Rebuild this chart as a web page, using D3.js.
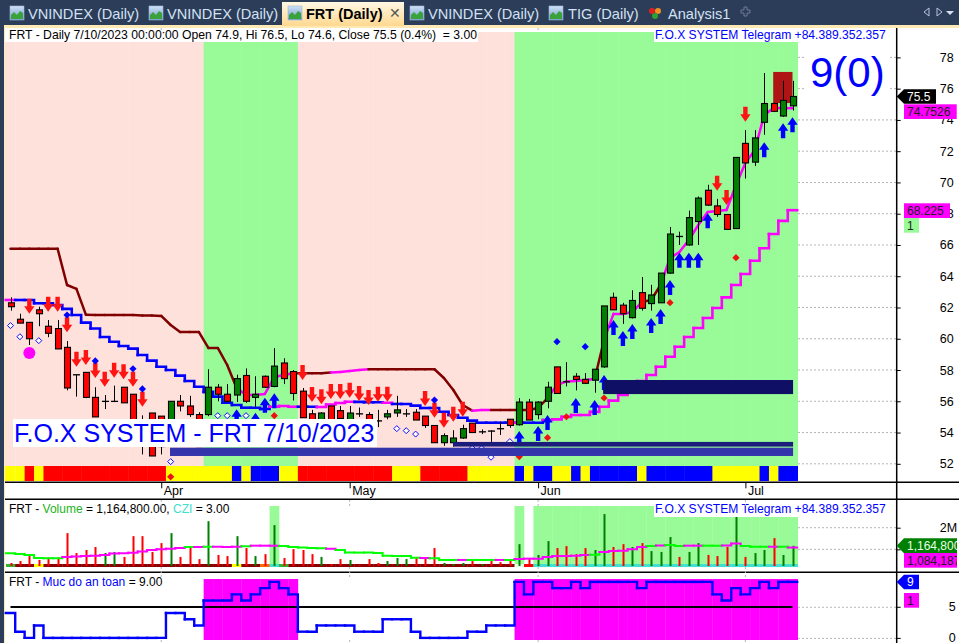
<!DOCTYPE html>
<html><head><meta charset="utf-8">
<script src="https://cdn.jsdelivr.net/npm/d3@7/dist/d3.min.js"></script>
<style>
html,body{margin:0;padding:0;background:#fff;overflow:hidden}
svg{display:block;font-family:"Liberation Sans",Arial,sans-serif}
text{white-space:pre}
</style></head><body>
<svg id="c" width="959" height="643"></svg>
<script>
// ---------- data ----------
const tabs = ["VNINDEX (Daily)","VNINDEX (Daily)","FRT (Daily)","VNINDEX (Daily)","TIG (Daily)","Analysis1"];
const priceTicks = [52,54,56,58,60,62,64,66,68,70,72,74,76,78];
const monthTicks = [[16,"Apr"],[36,"May"],[56,"Jun"],[78,"Jul"]];
// open, high, low, close per session
const ohlc = [
[62.3,62.65,61.8,62.05],[61.25,61.6,61,61],[61.05,61.05,59.6,60],[61.85,62.05,60.8,61.6],[60.8,61.2,60.1,60.35],[60.65,61.2,59.35,59.35],
[59.45,59.85,56.7,56.85],[57.7,57.7,56.3,57.7],[57.85,57.85,56.2,56.25],[56.25,56.9,55,55],[56,56.4,55.5,56],[56,57,56,56],
[56.9,56.9,55.9,55.9],[56.45,56.45,54.8,54.8],[54,55.1,52.6,54],[55.25,55.25,52.5,52.5],[55.05,55.05,52.6,53.1],[54.5,56,54.2,56],
[56,56.4,55.35,55.7],[55.7,56.35,55,55.15],[55.15,55.3,53.1,53.1],[55.15,58.05,55.05,56.9],[56.9,57.1,56,56.45],[56.45,57.1,55.95,56],
[56.4,57.7,55.95,57.45],[57.65,58.1,55.9,56],[56.25,57.6,55.65,56.45],[57.6,57.65,56.85,56.9],[56.95,59.4,56.9,58.25],[58.45,58.75,57.1,57.45],
[57.9,58,56.05,56.5],[56.65,56.85,54.95,54.95],[55.2,55.45,54.2,54.2],[54.5,55.3,54.3,55.25],[55.7,55.7,54.5,54.5],[55.4,55.7,54.85,54.9],
[54.8,55.7,54.6,55.25],[55.2,55.6,55,55.2],[55.15,55.3,54.7,54.8],[54.75,55.45,54.35,54.75],[55,55.45,54.85,55.2],[55.25,56.35,55,55.45],
[55.2,55.5,55,55.2],[55.3,55.5,54.8,54.8],[55.05,55.05,54.3,54.45],[54.45,54.45,53.35,53.35],[53.35,53.95,53.15,53.8],[53.35,54.15,53.1,53.65],
[53.65,54.5,53.6,54.25],[54.6,54.6,54,54],[54.05,54.2,53.9,54.05],[54.1,54.15,53.4,54.1],[54.25,54.7,53.85,54.25],[54.85,54.85,54.3,54.45],
[54.5,56.2,54.45,55.95],[55.95,56.15,54.8,54.8],[55.15,56,54.85,55.95],[56,57.25,55.55,56.9],[58.2,58.2,56.5,56.5],[57.25,58.5,56.95,57.25],
[57.6,57.8,56.7,57.4],[57.4,57.8,57.1,57.15],[57.35,58.05,56.55,58.05],[58.2,62.1,58.15,62.1],[62.65,62.95,61.85,61.85],[62.15,62.3,60.95,61.6],
[61.35,63.1,61.3,62.45],[62.95,63.95,61.8,61.95],[62.25,63.45,61.8,62.8],[62.3,64.2,62.3,64.2],[64.2,67.15,64.15,66.7],[66.55,66.85,66,66.55],
[66,68.2,65.95,67.75],[67.5,69.1,66,69],[69.5,69.85,68.5,68.55],[68.5,68.95,67.8,67.95],[67.95,67.95,67,67],[67.05,71.6,67.05,71.6],
[72.5,73.35,70.25,71.25],[71.3,73.35,71.05,72.85],[73.85,77,73.05,75.05],[75.05,75.1,74.5,74.55],[74.25,76.5,74.2,75.25],[74.9,76.5,74.6,75.5]];
// upper adaptive line and lower stepped line
const lineA = [65.76,65.76,65.76,65.76,65.76,65.76,63.44,63.19,61.54,61.52,61.52,61.52,61.52,61.52,61.49,61.49,61.46,60.88,60.43,60.43,60.43,59.41,59.41,58.32,56.85,56.4,56.4,56.47,57.55,57.68,57.79,57.79,57.79,57.79,57.84,57.87,57.94,58,58.05,58.05,58.05,58.05,58.05,58.05,58.05,58.05,57.49,56.72,55.76,55.4,55.44,55.44,55.44,55.44,55.44,55.44,55.57,56.2,57.04,57.27,57.3,57.36,57.43,59.92,61.59,61.59,61.71,62.35,62.48,63.44,65.17,65.55,66.32,67.28,68.11,68.18,68.24,69.84,71.25,72.08,74.32,74.76,74.76,74.7526];
const lineAMagenta = [[24,29],[34,37],[49,50],[57,61],[63,66],[69,83]];
const lineB = [62.48,62.48,62.48,62.27,62.27,62.16,61.91,61.52,61.03,60.66,60.11,59.81,59.54,59.37,58.96,58.6,58.21,58,57.64,57.3,56.93,56.6,56.3,55.91,55.76,55.59,55.59,55.51,55.65,55.7,55.65,55.65,55.65,55.63,55.79,55.89,55.97,55.96,55.94,55.94,55.91,55.83,55.83,55.72,55.57,55.57,55.33,55.12,54.95,54.76,54.63,54.63,54.63,54.63,54.63,54.63,54.63,54.8,54.84,55,55.12,55.12,55.32,55.65,56.04,56.4,56.85,57.3,57.68,58.21,58.85,59.49,60.11,60.69,61.33,61.97,62.65,63.44,64.14,64.99,65.79,66.7,67.54,68.225];
const lineBMagenta = [[0,0],[28,30],[33,36],[40,40],[54,54],[57,83]];
// signals: [session, price]
const sellArrows = [[2,61.6],[4,61.73],[5,61.73],[6,60.41],[7,58.21],[8,58.32],[9,57.49],[10,56.93],[11,57.51],[12,57.41],[13,56.93],[14,55.65],[31,57.36],[32,55.96],[33,55.81],[34,56.15],[35,56.15],[36,56.23],[37,56.02],[38,55.76],[39,55.97],[40,55.97],[44,55.7],[45,54.95],[46,54.31],[47,54.69],[48,55.01],[75,69.47],[76,68.56],[78,73.89]];
const buyArrows = [[24,55.49],[26,55.26],[27,56.23],[28,56.51],[54,54.1],[56,54.42],[57,55.12],[60,56.21],[62,56.08],[63,57.68],[64,61.2],[65,60.5],[66,60.95],[68,61.33],[69,61.9],[70,63.76],[71,65.51],[72,65.51],[73,65.51],[74,68.03],[80,72.57],[82,73.79],[83,74.17]];
const blueDiamonds = [[6,61.52],[9,58.58],[13,58.08],[14,56.79],[45,56.08],[58,59.81],[61,59.49]];
const redDiamonds = [[17,51.17],[28,55.08],[54,52.46],[57,53.67],[59,55.01],[63,56.21],[70,62.31],[77,65.19]];
const openDiamonds = [[0,60.84],[1,60.13],[3,59.88],[17,52.14],[22,55.08],[23,55.08],[25,55.08],[41,54.25],[42,54.12],[43,53.9],[49,53],[50,53],[51,52.42],[53,53.42]];
const bigDot = [[2,59.09]];
// horizontal zones: [from session, to session, upper price, lower price, colour]
const zones = [[62.9,83.06,57.36,56.46,"#0f0f66"],[46.97,83.06,53.4,53.1,"#1c1c7c"],[16.93,83.06,53.03,52.5,"#3535ab"]];
const hotZone = [80.95,83,77.07,75.08];
// colour ribbon under the price: 0 yellow 1 red 2 blue
const ribbon = [0,0,1,0,1,1,1,1,1,1,1,1,1,1,1,1,1,0,0,0,0,0,0,0,2,0,2,2,2,0,0,1,1,1,1,1,1,1,1,1,1,0,0,0,1,1,1,1,1,0,0,0,0,0,2,0,2,2,0,0,2,0,2,2,2,2,2,0,2,2,2,2,2,2,2,0,0,0,0,0,2,0,2,2];
// volume in millions, its average, and which bars were up
const volumes = [.37,.46,.77,.51,.63,.63,1.75,.83,.97,1.11,.83,.88,.65,1.61,1.61,.88,1.29,1.75,.65,1.15,.55,2.3,.74,.69,1.61,1.06,.69,.78,2.12,.6,1.01,.97,.78,.65,.32,.55,.51,.28,.55,.37,.46,.6,.55,.65,.6,1.06,.37,.32,.37,.46,.32,.46,.41,.51,1.24,.6,.74,1.38,1.06,1.15,.78,1.06,.97,2.63,1.11,1.24,1.11,1.29,.92,.88,1.57,.65,.88,1.29,.74,.69,1.11,2.53,.65,.83,.97,1.52,.74,1.1648];
const volumeUp = [10,11,17,21,24,26,28,33,36,40,41,42,46,47,48,50,54,56,57,62,63,66,68,69,70,72,73,77,79,80,82,83];
const volumeAvg = [.82,.78,.74,.6,.59,.59,.65,.67,.69,.71,.74,.81,.82,.84,.9,.97,1.01,1.03,1.06,1.11,1.11,1.12,1.12,1.11,1.12,1.14,1.17,1.17,1.17,1.15,1.11,1.08,1.06,1.05,1.03,.97,.86,.85,.85,.83,.71,.69,.69,.61,.6,.59,.51,.51,.51,.51,.51,.51,.51,.51,.55,.57,.57,.65,.69,.69,.71,.74,.75,.88,.92,.94,1.01,1.11,1.15,1.18,1.2,1.15,1.17,1.17,1.17,1.17,1.18,1.27,1.15,1.12,1.12,1.12,1.12,1.084187];
const volumeAvgMagenta = [[6,18],[20,20],[22,24],[26,28],[34,34],[44,44],[48,48],[52,52],[54,61],[63,67],[69,69],[72,73],[76,77],[81,81],[83,83]];
// CZI state: 0 dark red, 1 red, 2 orange, 3 turquoise, 4 pale, 5 green, 6 yellow
const czi = [5,0,0,6,0,0,0,0,0,0,0,0,0,0,0,0,0,0,0,0,0,0,0,0,6,0,0,2,3,5,0,0,0,0,0,0,0,0,0,0,0,0,0,0,0,0,0,0,0,0,0,0,0,0,4,1,3,3,3,3,3,3,3,3,3,3,3,3,3,3,3,3,3,3,3,3,3,3,3,3,3,3,3,3];
// "Muc do an toan" safety level
const safety = [4,1,0,2,0,0,0,0,0,0,0,0,0,0,0,0,0,4,4,3,2,6,6,6,7,6,7,8,9,8,7,1,1,2,2,2,2,1,1,1,3,3,3,1,0,0,0,0,0,1,1,2,2,2,9,7,9,9,8,8,9,8,9,9,9,9,9,8,9,9,9,9,9,9,9,7,6,8,7,8,9,8,9,9];

// ---------- layout ----------
const svg = d3.select("#c");
const x = d3.scaleLinear().domain([0,83]).range([10.5,792.5]);
const y = d3.scaleLinear().domain([52,78]).range([463.8,57.4]);
const yV = d3.scaleLinear().domain([0,2]).range([571,527.7]);
const yS = d3.scaleLinear().domain([0,9]).range([637.9,581.9]);
const step = x(1)-x(0), half = step/2;
const axisX = 896.7, plotL = 5, plotR = 798;
const inR = (rs,i)=>rs.some(r=>i>=r[0]&&i<=r[1]);
const MAG="#ff00ff", MAR="#800000", BLU="#0000ff", GRID="#b5b5b5";
const PAL="#98fb98", PNK="#ffe1dc";

// ---------- main window chrome ----------
svg.append("rect").attr("width",959).attr("height",643).attr("fill","#fff");
const defs = svg.append("defs");
const g1 = defs.append("linearGradient").attr("id","act").attr("x1",0).attr("x2",0).attr("y1",0).attr("y2",1);
g1.append("stop").attr("offset",0).attr("stop-color","#fff8e4");
g1.append("stop").attr("offset",1).attr("stop-color","#ffd88f");
const g2 = defs.append("linearGradient").attr("id","ico").attr("x1",0).attr("x2",0).attr("y1",0).attr("y2",1);
g2.append("stop").attr("offset",0).attr("stop-color","#cfe2f7");
g2.append("stop").attr("offset",1).attr("stop-color","#6f95c8");
svg.append("rect").attr("width",959).attr("height",26).attr("fill","#2c3d5a");
svg.append("rect").attr("y",26).attr("width",4).attr("height",617).attr("fill","#2c3d5a");
svg.append("rect").attr("x",4).attr("y",25).attr("width",955).attr("height",3).attr("fill","#ffe9b5");
svg.append("rect").attr("x",4).attr("y",25).attr("width",1).attr("height",618).attr("fill","#ffe9b5");
svg.append("rect").attr("x",282).attr("y",2).attr("width",122).attr("height",24).attr("fill","url(#act)");
const tabX = [28,167,306,428,568,668], icoX=[10,149,288,410,549];
tabs.forEach((t,i)=>{
  svg.append("text").attr("x",tabX[i]).attr("y",19).attr("font-size",i==2?14.5:14.6)
    .attr("font-weight",i==2?"bold":"normal").attr("fill",i==2?"#000":"#d3e2f3").text(t);
});
icoX.forEach(a=>{
  svg.append("rect").attr("x",a).attr("y",6).attr("width",14).attr("height",14).attr("fill","url(#ico)").attr("stroke","#9fb7d6").attr("stroke-width",.6);
  svg.append("path").attr("d",`M${a+1} 19V15L${a+4} 12L${a+7} 15L${a+10} 11L${a+13} 13V19Z`).attr("fill","#3aa23a");
});
svg.append("circle").attr("cx",652).attr("cy",11).attr("r",3).attr("fill","#e02020");
svg.append("circle").attr("cx",658).attr("cy",11).attr("r",3).attr("fill","#f09020");
svg.append("circle").attr("cx",655).attr("cy",16).attr("r",3).attr("fill","#30a030");
svg.append("text").attr("x",395).attr("y",18).attr("font-size",14).attr("text-anchor","middle").attr("fill","#555").text("✕");
svg.append("path").attr("d","M741 10h3v-3h3v3h3v3h-3v3h-3v-3h-3z").attr("fill","none").attr("stroke","#6f7f98");
svg.append("path").attr("d","M929 8l-5 4l5 4zM937 8l5 4l-5 4z").attr("fill","none").attr("stroke","#b8c6da");
svg.append("path").attr("d","M946 11h8l-4 4z").attr("fill","#d6e0ee");

// ---------- price pane background ----------
const pane = svg.append("g");
const bgW = i => (i==83? plotR-(x(i)-half) : step+.5);
pane.selectAll("rect.bg").data(safety).join("rect")
  .attr("x",(d,i)=>i==0?plotL:x(i)-half).attr("y",32)
  .attr("width",(d,i)=>i==0?x(0)+half-plotL:bgW(i)).attr("height",434)
  .attr("fill",d=>d>=5?PAL:PNK);
// right-hand grid
pane.selectAll("line.g").data(priceTicks).join("line")
  .attr("x1",plotR).attr("x2",axisX).attr("y1",d=>y(d)).attr("y2",d=>y(d))
  .attr("stroke",GRID).attr("stroke-dasharray","2,2");
// ribbon
const ribCol=["#ffff00","#ff0000","#0000ff"];
pane.selectAll("rect.rb").data(ribbon).join("rect")
  .attr("x",(d,i)=>i==0?plotL:x(i)-half).attr("y",466)
  .attr("width",(d,i)=>i==0?x(0)+half-plotL:bgW(i)).attr("height",15)
  .attr("fill",d=>ribCol[d]);
// hot zone
pane.append("rect").attr("x",x(hotZone[0])).attr("width",x(hotZone[1])-x(hotZone[0]))
  .attr("y",y(hotZone[2])).attr("height",y(hotZone[3])-y(hotZone[2])).attr("fill","#b01515");

// ---------- lines ----------
const ln = d3.line();
const plain = (arr,sc,colFn,w,parent)=>{
  arr.slice(0,-1).forEach((v,i)=>{
    parent.append("path").attr("d",ln([[x(i),sc(v)],[x(i+1),sc(arr[i+1])]]))
      .attr("fill","none").attr("stroke",colFn(i)).attr("stroke-width",w).attr("stroke-linecap","round");
  });
};
const stepped = (arr,sc,colFn,w,parent)=>{
  arr.forEach((v,i)=>{
    const pts=[[i==0?x(0)-half:x(i)-half,sc(v)],[x(i)+half,sc(v)]];
    if(i<arr.length-1) pts.push([x(i)+half,sc(arr[i+1])]);
    parent.append("path").attr("d",ln(pts)).attr("fill","none")
      .attr("stroke",colFn(i)).attr("stroke-width",w).attr("stroke-linecap","square");
  });
};
plain(lineA,y,i=>inR(lineAMagenta,i)?MAG:MAR,2.5,pane);
stepped(lineB,y,i=>inR(lineBMagenta,i)?MAG:BLU,2.6,pane);

// ---------- candles ----------
const bw=6;
const cg = pane.selectAll("g.c").data(ohlc).join("g");
cg.append("line").attr("x1",(d,i)=>Math.round(x(i))+.5).attr("x2",(d,i)=>Math.round(x(i))+.5)
  .attr("y1",d=>y(d[1])).attr("y2",d=>y(d[2])).attr("stroke","#000");
cg.append("rect").attr("x",(d,i)=>Math.round(x(i))-bw/2+.5)
  .attr("width",bw).attr("y",d=>y(Math.max(d[0],d[3])))
  .attr("height",d=>Math.max(.2,Math.abs(y(d[0])-y(d[3]))))
  .attr("fill",d=>d[3]>d[0]?"#008000":d[3]<d[0]?"#ff0000":"#000")
  .attr("stroke","#000").attr("stroke-width",1.1);

// ---------- signals ----------
const downArrow="M-2.2 -15H2.2V-7.5H5.2L0 0L-5.2 -7.5H-2.2Z", upArrow="M-2.2 15H2.2V7.5H5.2L0 0L-5.2 7.5H-2.2Z";
pane.selectAll("path.s").data(sellArrows).join("path").attr("d",downArrow)
  .attr("transform",d=>`translate(${x(d[0])},${y(d[1])})`).attr("fill","#ff1414");
pane.selectAll("path.b").data(buyArrows).join("path").attr("d",upArrow)
  .attr("transform",d=>`translate(${x(d[0])},${y(d[1])})`).attr("fill","#0000ff");
const dia = d3.symbol().type(d3.symbolSquare);
pane.selectAll("path.bd").data(blueDiamonds).join("path").attr("d",dia.size(26)())
  .attr("transform",d=>`translate(${x(d[0])},${y(d[1])}) rotate(45)`).attr("fill",BLU);
pane.selectAll("path.rd").data(redDiamonds).join("path").attr("d",dia.size(26)())
  .attr("transform",d=>`translate(${x(d[0])},${y(d[1])}) rotate(45)`).attr("fill","#f01010");
pane.selectAll("path.od").data(openDiamonds).join("path").attr("d",dia.size(18)())
  .attr("transform",d=>`translate(${x(d[0])},${y(d[1])}) rotate(45)`).attr("fill","#fff").attr("stroke",BLU).attr("stroke-width",.9);
pane.selectAll("circle.m").data(bigDot).join("circle").attr("cx",d=>x(d[0])).attr("cy",d=>y(d[1])).attr("r",6).attr("fill",MAG);

// zones
pane.selectAll("rect.z").data(zones).join("rect")
  .attr("x",d=>x(d[0])).attr("width",d=>x(d[1])-x(d[0]))
  .attr("y",d=>y(d[2])).attr("height",d=>y(d[3])-y(d[2])).attr("fill",d=>d[4]);

// ---------- labelled text boxes ----------
const boxed=(px,py,w,h,fill)=>svg.append("rect").attr("x",px).attr("y",py).attr("width",w).attr("height",h).attr("fill",fill);
const lbl=(px,py,s,col,size=12,extra={})=>{
  const t=svg.append("text").attr("x",px).attr("y",py).attr("font-size",size).attr("fill",col).text(s);
  Object.entries(extra).forEach(([k,v])=>t.attr(k,v)); return t;
};
const rich=(px,py,parts,size=12)=>{
  const t=svg.append("text").attr("x",px).attr("y",py).attr("font-size",size);
  parts.forEach(p=>t.append("tspan").attr("fill",p[1]).text(p[0]));
};
boxed(5,28,473,14,"#fff");
rich(9,38.5,[["FRT - Daily 7/10/2023 00:00:00 Open 74.9, Hi 76.5, Lo 74.6, Close 75.5 (0.4%)  = 3.00","#000"]],12.2);
boxed(plotR,28,98,4,"#fff");
boxed(654,28,233,14,"#fff");
lbl(655,38.5,"F.O.X SYSTEM Telegram +84.389.352.357",BLU,12.1);
boxed(13,419,364,28,"#fff");
lbl(14,442,"F.O.X SYSTEM - FRT 7/10/2023",BLU,25);
boxed(806,45,82,56,"#fff");
lbl(810,87,"9(0)",BLU,42);

// ---------- volume pane ----------
const cziCol=["#8b0000","#ff0000","#ff6a00","#40e0d0","#e4ffe4","#32b432","#ffff00"];
const vp = svg.append("g");
vp.selectAll("rect.band").data(czi).join("rect")
  .attr("x",(d,i)=>x(i)-half).attr("width",(d,i)=>i==83?plotR-(x(i)-half):step+.3)
  .attr("y",506).attr("height",58)
  .attr("fill",PAL).attr("opacity",d=>(d==3||d==4)?1:0);
vp.selectAll("rect.st").data(czi).join("rect")
  .attr("x",(d,i)=>i==0?plotL+1:x(i)-half).attr("width",(d,i)=>i==83?plotR-(x(i)-half):step+.3)
  .attr("y",564).attr("height",3).attr("fill",d=>cziCol[d]);
vp.selectAll("rect.v").data(volumes).join("rect")
  .attr("x",(d,i)=>Math.round(x(i))-.5).attr("width",2)
  .attr("y",d=>yV(d)).attr("height",d=>Math.max(0,566-yV(d)))
  .attr("fill",(d,i)=>volumeUp.includes(i)?"#008000":"#ff0000");
stepped(volumeAvg,yV,i=>inR(volumeAvgMagenta,i)?MAG:"#00ff00",2,vp);
vp.selectAll("line.g").data([1,2]).join("line").attr("x1",plotR).attr("x2",axisX)
  .attr("y1",d=>yV(d)).attr("y2",d=>yV(d)).attr("stroke",GRID).attr("stroke-dasharray","2,2");
rich(9,513,[["FRT - ","#000"],["Volume","#22b322"],[" = 1,164,800.00, ","#000"],["CZI","#40e0d0"],[" = 3.00","#000"]]);
boxed(654,503,233,14,"#fff");
lbl(655,513,"F.O.X SYSTEM Telegram +84.389.352.357",BLU,12.1);

// ---------- safety pane ----------
const sp = svg.append("g");
sp.selectAll("rect.sb").data(safety).join("rect")
  .attr("x",(d,i)=>x(i)-half).attr("width",(d,i)=>i==83?plotR-(x(i)-half):step+.3)
  .attr("y",579).attr("height",61).attr("fill",MAG).attr("opacity",d=>d>=5?1:0);
sp.append("line").attr("x1",x(0)).attr("x2",x(83)).attr("y1",607).attr("y2",607).attr("stroke","#000").attr("stroke-width",2);
stepped(safety,yS,()=>BLU,2.4,sp);
sp.selectAll("line.g").data([0,5]).join("line").attr("x1",plotR).attr("x2",axisX)
  .attr("y1",d=>yS(d)+.5).attr("y2",d=>yS(d)+.5).attr("stroke",GRID).attr("stroke-dasharray","2,2");
rich(9,586,[["FRT - ","#000"],["Muc do an toan",BLU],[" = 9.00","#000"]]);

// ---------- axes & separators ----------
[482.3,499.3,572.3].forEach(v=>svg.append("line").attr("x1",5).attr("x2",959).attr("y1",v).attr("y2",v).attr("stroke","#000").attr("stroke-width",1.5));
svg.append("line").attr("x1",axisX).attr("x2",axisX).attr("y1",28).attr("y2",643).attr("stroke","#000").attr("stroke-width",1.5);
const styleAxis=g=>{g.select(".domain").remove();g.selectAll("text").attr("font-size",12.5).attr("fill","#000").attr("font-family",'"Liberation Sans",Arial,sans-serif');g.selectAll("line").attr("stroke","#000");};
svg.append("g").attr("transform",`translate(${axisX},0)`).call(d3.axisRight(y).tickValues(priceTicks).tickSize(4).tickPadding(39).tickFormat(d3.format("d"))).call(styleAxis);
svg.append("g").attr("transform",`translate(${axisX},0)`).call(d3.axisRight(yV).tickValues([1,2]).tickSize(4).tickPadding(39).tickFormat(d=>d==2?"2M":"")).call(styleAxis);
svg.append("g").attr("transform",`translate(${axisX},0)`).call(d3.axisRight(yS).tickValues([0,5]).tickSize(4).tickPadding(48).tickFormat(d3.format("d"))).call(styleAxis);
const monthAxis = d3.axisBottom(x).tickValues(monthTicks.map(d=>d[0])).tickSize(6).tickPadding(0).tickFormat(d=>monthTicks.find(m=>m[0]==d)[1]);
svg.append("g").attr("transform","translate(0,482.3)").call(monthAxis).call(styleAxis)
  .call(g=>g.selectAll("text").attr("text-anchor","start").attr("x",2).attr("y",4).attr("dy","0.71em"));
// short dotted month marks
monthTicks.forEach(m=>[[28,32],[500,506],[567,578],[640,643]].forEach(s=>{
  svg.append("line").attr("x1",x(m[0])).attr("x2",x(m[0])).attr("y1",s[0]).attr("y2",s[1])
    .attr("stroke",GRID).attr("stroke-dasharray","2,2");
}));

// ---------- value flags on the axis ----------
const flag=(v,sc,w,h,fill,txt,col)=>{
  const c=sc(v);
  svg.append("path").attr("d",`M${axisX} ${c}L904 ${c-h/2}H${904+w}V${c+h/2}H904Z`).attr("fill",fill);
  lbl(907,c+4.5,txt,col);
};
const tag=(py,w,fill,txt,col)=>{boxed(904,py,w,14.7,fill);lbl(907,py+11.5,txt,col);};
flag(ohlc[83][3],y,32,14.4,"#000","75.5","#fff");
tag(104.3,52.7,MAG,"74.7526","#222");
tag(203.3,46,MAG,"68.225","#222");
tag(218,15,PAL,"1","#222");
flag(volumes[83],yV,53,15,"#008000","1,164,800","#e8ffe8");
tag(553,53,MAG,"1,084,187","#222");
flag(safety[83],yS,15,14.5,BLU,"9","#fff");
tag(593,15,MAG,"1","#222");
svg.append("rect").attr("x",957).attr("y",530).attr("width",2).attr("height",40).attr("fill","#fff");
</script>
</body></html>
